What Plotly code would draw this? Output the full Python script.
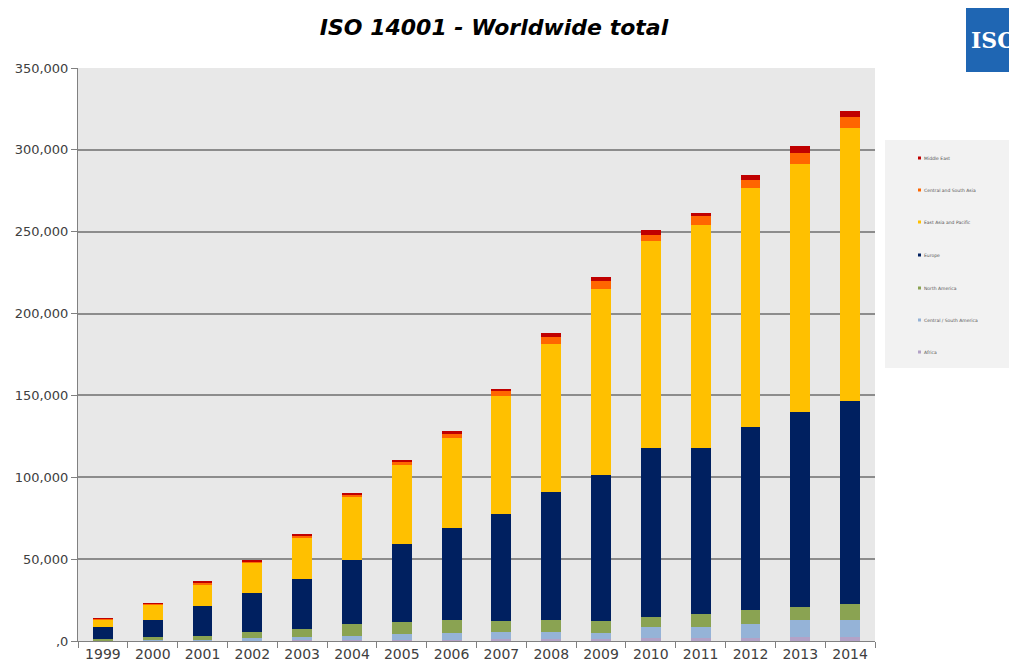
import plotly.graph_objects as go

years = [str(y) for y in range(1999, 2015)]
africa = [100, 200, 300, 400, 600, 600, 600, 600, 1000, 1000, 1000, 1600, 1900, 1900, 2300, 2300]
central_south_america = [300, 400, 600, 1200, 1600, 2600, 3700, 4500, 4500, 4700, 4100, 6700, 6800, 8500, 10400, 10400]
north_america = [1000, 1600, 2400, 3800, 5100, 7100, 7300, 7700, 6900, 7100, 7300, 6500, 7600, 8700, 8300, 10200]
europe = [7300, 10900, 18000, 23800, 30700, 39400, 47900, 56000, 65000, 78200, 88900, 102900, 101300, 111700, 119100, 123800]
east_asia_pacific = [4600, 8900, 13500, 18600, 25400, 38600, 48100, 55200, 72100, 90700, 113900, 126500, 136700, 145900, 151200, 166400]
central_south_asia = [200, 800, 800, 800, 1000, 1000, 2000, 2400, 3000, 3700, 4500, 4100, 5100, 5100, 7000, 6800]
middle_east = [100, 200, 600, 800, 600, 1000, 1200, 1600, 1400, 2600, 2800, 2800, 2300, 3000, 3800, 3800]

series = [
    ("Africa", africa, "#b3a2c7"),
    ("Central / South America", central_south_america, "#95b3d7"),
    ("North America", north_america, "#8aa352"),
    ("Europe", europe, "#002060"),
    ("East Asia and Pacific", east_asia_pacific, "#ffc000"),
    ("Central and South Asia", central_south_asia, "#ff6600"),
    ("Middle East", middle_east, "#c00000"),
]

ytickvals = [0, 50000, 100000, 150000, 200000, 250000, 300000, 350000]
yticktext = [",0", "50,000", "100,000", "150,000", "200,000", "250,000", "300,000", "350,000"]

# page offset (body margin) compensation
OFF = 8
W, H = 1017 - OFF, 661 - OFF
L, R, T, B = 78 - OFF, 875 - OFF, 68 - OFF, 641 - OFF


def px(x):
    return (x - OFF - L) / (R - L)


def py(y):
    return (B - (y - OFF)) / (B - T)


fig = go.Figure()
for name, vals, color in series:
    fig.add_trace(go.Bar(x=years, y=vals, name=name, marker=dict(color=color, line=dict(width=0)),
                         showlegend=False))

shapes = []
annotations = []

# custom legend box
shapes.append(dict(type="rect", xref="paper", yref="paper", x0=px(885), x1=px(1025),
                   y0=py(368), y1=py(140), fillcolor="#f2f2f2", line=dict(width=0), layer="below"))
leg_y = [352, 320, 288, 255, 222, 190, 158]
for (name, vals, color), yy in zip(series, leg_y):
    shapes.append(dict(type="rect", xref="paper", yref="paper", x0=px(918), x1=px(921),
                       y0=py(yy + 1.5), y1=py(yy - 1.5), fillcolor=color, line=dict(width=0)))
    annotations.append(dict(text=name, xref="paper", yref="paper", x=px(922), y=py(yy),
                            xanchor="left", yanchor="middle", showarrow=False,
                            font=dict(size=4.5, color="#555555", family="DejaVu Sans")))

# ISO logo
shapes.append(dict(type="rect", xref="paper", yref="paper", x0=px(966), x1=px(1030),
                   y0=py(72), y1=py(8), fillcolor="#1f66b3", line=dict(width=0)))
annotations.append(dict(text="<b>ISO</b>", xref="paper", yref="paper", x=px(969), y=py(40),
                        xanchor="left", yanchor="middle", showarrow=False,
                        font=dict(size=22, color="white", family="DejaVu Serif")))

fig.update_layout(
    width=W, height=H,
    margin=dict(l=L, r=W - R, t=T, b=H - B, autoexpand=False),
    barmode="stack",
    bargap=0.6,
    paper_bgcolor="white",
    plot_bgcolor="#e8e8e8",
    title=dict(text="<b><i>ISO 14001 - Worldwide total</i></b>", x=(494 - OFF) / W, xanchor="center",
               y=1 - (27 - OFF) / H, yanchor="middle",
               font=dict(size=22, color="black", family="DejaVu Sans")),
    font=dict(family="DejaVu Sans", size=13, color="#404040"),
    shapes=shapes,
    annotations=annotations,
    xaxis=dict(type="category", tickson="boundaries", ticks="outside", ticklen=6,
               tickcolor="#808080", showline=True, linecolor="#808080", linewidth=1,
               showgrid=False, tickfont=dict(size=14, color="#404040"), automargin=False),
    yaxis=dict(range=[0, 350000], tickvals=ytickvals, ticktext=yticktext, ticks="outside",
               ticklen=6, tickcolor="#808080", showline=True, linecolor="#808080", linewidth=1,
               showgrid=True, gridcolor="#8c8c8c", gridwidth=1.5, zeroline=False,
               tickfont=dict(size=13, color="#404040"), automargin=False),
)

fig.write_html("out.html")
